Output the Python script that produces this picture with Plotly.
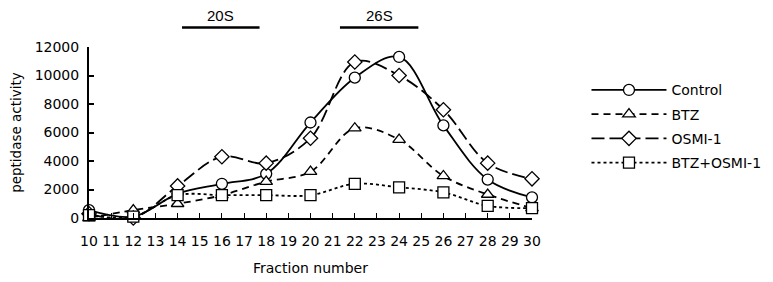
import plotly.graph_objects as go

fractions = [10, 12, 14, 16, 18, 20, 22, 24, 26, 28, 30]
control = [550, 100, 1700, 2400, 3100, 6700, 9850, 11300, 6500, 2700, 1450]
btz = [0, 550, 1000, 1600, 2550, 3250, 6300, 5500, 2950, 1650, 700]
osmi = [300, 0, 2250, 4300, 3850, 5600, 10950, 10000, 7600, 3850, 2750]
btz_osmi = [200, 100, 1600, 1600, 1600, 1600, 2400, 2150, 1800, 850, 700]

series_names = ["Control", "BTZ", "OSMI-1", "BTZ+OSMI-1"]
series_values = [control, btz, osmi, btz_osmi]
symbols = ["circle", "triangle-up", "diamond", "square"]
dashes = ["solid", "7px,5px", "13px,5px", "dot"]
sizes = [11, 11, 11, 11]

bands = [("20S", 14.2, 17.7), ("26S", 21.33, 24.87)]

FONT = "DejaVu Sans"

fig = go.Figure()
for name, vals, sym, dash, sz in zip(series_names, series_values, symbols, dashes, sizes):
    fig.add_trace(go.Scatter(
        x=fractions, y=vals, name=name, mode="lines+markers", legendgroup=name,
        line=dict(color="black", width=1.8, dash=dash, shape="spline", smoothing=1),
        marker=dict(symbol=sym, size=sz, color="white", line=dict(color="black", width=1.3)),
        cliponaxis=False,
    ))

for label, x0, x1 in bands:
    fig.add_shape(type="line", xref="x", yref="paper", x0=x0, x1=x1, y0=1.114, y1=1.114,
                  line=dict(color="black", width=2.5))
    fig.add_annotation(text=label, xref="x", yref="paper", x=(x0 + x1) / 2, y=1.187,
                       yanchor="middle", showarrow=False,
                       font=dict(family="Liberation Sans, Arial", size=15, color="black"))

fig.update_layout(
    width=765, height=274,
    margin=dict(l=81, r=241, t=39, b=64, autoexpand=False),
    plot_bgcolor="white", paper_bgcolor="white",
    font=dict(family=FONT, size=14, color="black"),
    showlegend=True,
    legend=dict(x=1.123, xanchor="left", y=0.84, yanchor="top", itemwidth=75,
                font=dict(size=14), bgcolor="rgba(0,0,0,0)", tracegroupgap=3),
    xaxis=dict(range=[10, 30], tickmode="linear", tick0=10, dtick=1, automargin=False,
               showline=True, linecolor="black", linewidth=2, showgrid=False, zeroline=False,
               ticks="inside", ticklen=5, tickwidth=1, tickcolor="black",
               ticklabelstandoff=9,
               title=dict(text="Fraction number", font=dict(size=14), standoff=15),
               tickfont=dict(size=14)),
    yaxis=dict(range=[0, 12000], tickvals=[0, 2000, 4000, 6000, 8000, 10000, 12000],
               tickformat="d", automargin=False,
               showline=True, linecolor="black", linewidth=2, showgrid=False, zeroline=False,
               ticks="inside", ticklen=5, tickwidth=1.5, tickcolor="black",
               ticklabelstandoff=5,
               title=dict(text="peptidase activity", font=dict(size=13.5), standoff=10),
               tickfont=dict(size=14)),
)

fig.write_html("out.html")
